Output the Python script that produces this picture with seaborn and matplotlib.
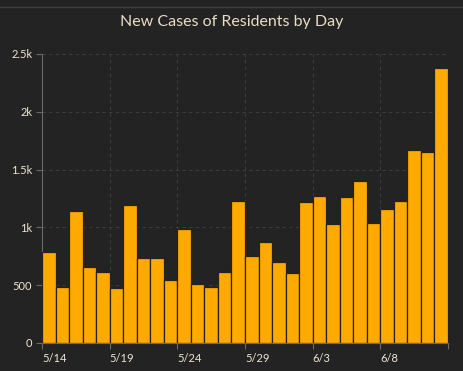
import pandas as pd
import matplotlib.pyplot as plt
import seaborn as sns
from matplotlib.lines import Line2D

# daily new cases, 5/14 .. 6/12
days = pd.date_range("2020-05-14", "2020-06-12", freq="D")
day_labels = [f"{d.month}/{d.day}" for d in days]
cases = [787, 484, 1139, 657, 617, 478, 1197, 733, 733, 547,
         983, 508, 487, 614, 1230, 755, 873, 700, 605, 1216,
         1272, 1030, 1261, 1401, 1039, 1160, 1232, 1666, 1649, 2380]

y_ticks = [0, 500, 1000, 1500, 2000, 2500]
y_tick_labels = ["0", "500", "1k", "1.5k", "2k", "2.5k"]

bg = "#232323"
txt = "#efe6d4"

df = pd.DataFrame({"day": day_labels, "cases": cases})

sns.set_theme(style="dark")
plt.rcParams["font.family"] = ["Lato", "DejaVu Sans"]

fig = plt.figure(figsize=(4.64, 3.71), dpi=100, facecolor=bg)
ax = fig.add_axes([0.0905, 0.0755, 0.875, 0.779])
ax.set_facecolor(bg)

sns.barplot(data=df, x="day", y="cases", color="#ffaa00", saturation=1,
            width=1.0, edgecolor="#2a2218", linewidth=0.9, ax=ax, zorder=3)

# ticks sit on the left edge of each day band, every 5 days
tick_idx = list(range(0, len(days) + 1, 5))
ax.set_xticks([i - 0.5 for i in tick_idx])
ax.set_xticklabels([day_labels[i] if i < len(days) else "" for i in tick_idx],
                   ha="left", color=txt, fontsize=8)
ax.set_xlim(-0.5, len(days) - 0.5)

ax.set_yticks(y_ticks)
ax.set_yticklabels(y_tick_labels, color=txt, fontsize=8)
ax.set_ylim(0, 2500)

ax.set_xlabel("")
ax.set_ylabel("")
ax.grid(True, color="#3c3c3c", linestyle=(0, (3, 3)), linewidth=0.8, zorder=0)

for s in ["top", "right"]:
    ax.spines[s].set_visible(False)
for s in ["left", "bottom"]:
    ax.spines[s].set_color("#6a6a6a")
    ax.spines[s].set_linewidth(0.8)
ax.tick_params(axis="both", which="both", length=4, width=0.8, color="#6a6a6a",
               bottom=True, left=True, pad=3)

fig.text(0.5, 0.94, "New Cases of Residents by Day", ha="center", va="center",
         color="#e8ddc4", fontsize=11.5)
fig.lines.append(Line2D([0, 1], [0.982, 0.982], transform=fig.transFigure,
                        color="#3e3e3e", linewidth=1))

fig.savefig("out.png", dpi=100, facecolor=bg)
